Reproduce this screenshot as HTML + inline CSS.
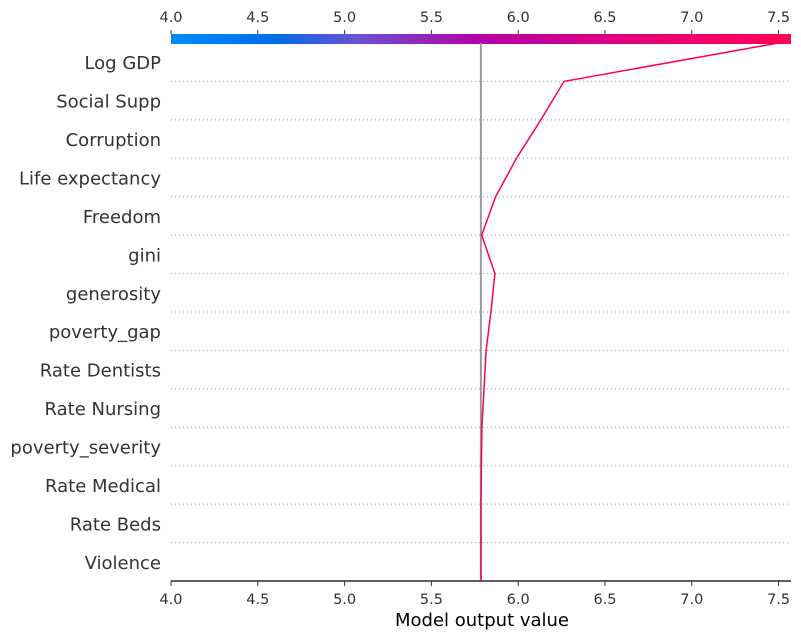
<!DOCTYPE html>
<html><head><meta charset="utf-8"><style>
body{margin:0;background:#fff;font-family:"Liberation Sans","DejaVu Sans",sans-serif}
svg text{font-family:"DejaVu Sans","Liberation Sans",sans-serif}
</style></head><body>
<svg width="801" height="639">
<defs><linearGradient id="cb" x1="0" x2="1">
<stop offset="0" stop-color="#008bfb"/><stop offset="0.17" stop-color="#006ce8"/>
<stop offset="0.3" stop-color="#6a52d0"/><stop offset="0.5" stop-color="#b400a8"/>
<stop offset="0.75" stop-color="#e6007a"/><stop offset="1" stop-color="#ff0052"/></linearGradient></defs>
<g id="g"></g>
</svg>
<script>
const features=["Log GDP","Social Supp","Corruption","Life expectancy","Freedom","gini","generosity","poverty_gap","Rate Dentists","Rate Nursing","poverty_severity","Rate Medical","Rate Beds","Violence"];
// cumulative output at each row boundary from top (y=43) down to bottom (base)
const pathValues=[7.50,6.264,6.13,5.99,5.87,5.79,5.866,5.843,5.815,5.803,5.791,5.788,5.786,5.786,5.785];
const baseValue=5.785;
const ticks=[4.0,4.5,5.0,5.5,6.0,6.5,7.0,7.5];
const X0=171,X1=791,VMIN=4.0,PX=173.6,TOP=43,BOT=581;
const rowH=(BOT-TOP)/features.length;
const x=v=>X0+(v-VMIN)*PX;
const NS="http://www.w3.org/2000/svg",g=document.getElementById('g');
function mk(t,a,txt){const e=document.createElementNS(NS,t);for(const k in a)e.setAttribute(k,a[k]);if(txt!=null)e.textContent=txt;g.appendChild(e);return e;}
let cb=mk('rect',{x:X0,y:34,width:X1-X0,height:10,fill:'url(#cb)'});


features.forEach((f,i)=>{
  const yc=TOP+rowH*(i+0.5);
  let t=mk('text',{x:161,y:yc+7,'text-anchor':'end','font-size':18,fill:'#333'},f);
  
  
  if(i<features.length-1){const yb=TOP+rowH*(i+1);
    let l=mk('line',{x1:X0,x2:X1,y1:yb,y2:yb,stroke:'#999','stroke-dasharray':'1 3','stroke-width':1});
    
    }
});
let bl=mk('line',{x1:x(baseValue),x2:x(baseValue),y1:TOP,y2:BOT,stroke:'#999','stroke-width':2});


let ax=mk('line',{x1:X0,x2:X1,y1:BOT,y2:BOT,stroke:'#000','stroke-width':1.2});


ticks.forEach(v=>{
  const xx=x(v);
  mk('line',{x1:xx,x2:xx,y1:BOT,y2:BOT+5,stroke:'#333'});
  let t=mk('text',{x:xx,y:BOT+23,'text-anchor':'middle','font-size':14.5,fill:'#333'},v.toFixed(1));
  
  
  mk('line',{x1:xx,x2:xx,y1:30,y2:34,stroke:'#333'});
  let t2=mk('text',{x:xx,y:22,'text-anchor':'middle','font-size':14.5,fill:'#333'},v.toFixed(1));
  
  
});
let tt=mk('text',{x:482,y:626,'text-anchor':'middle','font-size':18,fill:'#000'},'Model output value');


const pts=pathValues.map((v,i)=>x(v).toFixed(1)+','+(TOP+rowH*i).toFixed(1)).join(' ');
let pl=mk('polyline',{points:pts,fill:'none',stroke:'#ff0052','stroke-width':1.5});


</script>
</body></html>
